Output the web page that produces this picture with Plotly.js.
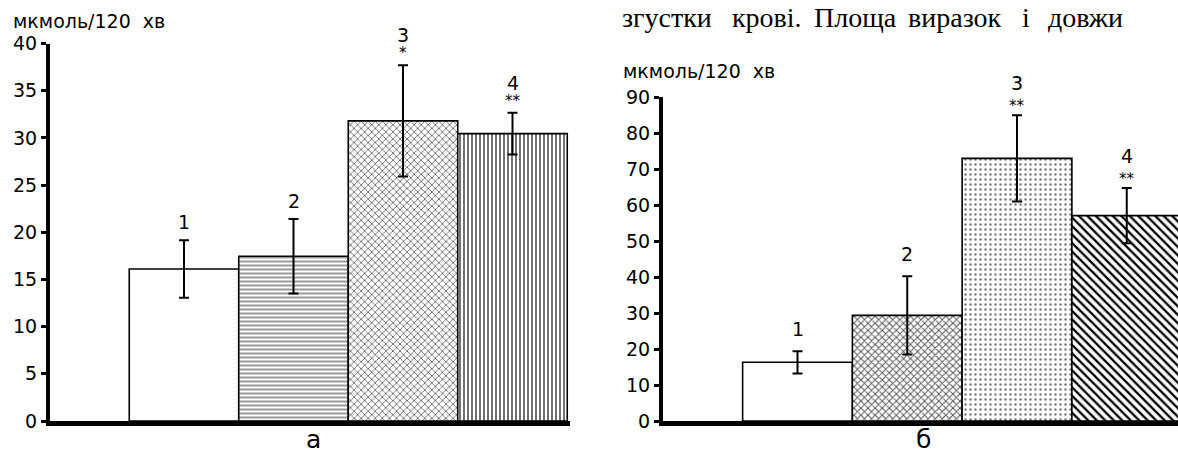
<!DOCTYPE html>
<html>
<head>
<meta charset="utf-8">
<script src="https://cdn.plot.ly/plotly-3.0.1.min.js"></script>
<style>
html,body{margin:0;padding:0;background:#fff;}
#chart{width:1178px;height:456px;}
</style>
</head>
<body>
<div id="chart"></div>
<script>
// ---- data ----
const categories = ['1', '2', '3', '4'];
const valuesA = [16.1, 17.45, 31.8, 30.45];
const errorsA = [3.05, 3.95, 5.9, 2.2];
const starsA = ['', '', '*', '**'];
const valuesB = [16.3, 29.35, 72.95, 57.05];
const errorsB = [3.1, 10.85, 11.95, 7.65];
const starsB = ['', '', '**', '**'];
const yTicksA = [0, 5, 10, 15, 20, 25, 30, 35, 40];
const yTicksB = [0, 10, 20, 30, 40, 50, 60, 70, 80, 90];
const unitLabel = 'мкмоль/120\u00A0\u00A0хв';
const panelLabels = ['а', 'б'];
const pageWords = ['згустки', 'крові.', 'Площа', 'виразок', 'і', 'довжи'];

// ---- styling ----
const W = 1178, H = 456;
const FONT = 'DejaVu Sans, Arial, sans-serif';
const SERIF = 'Liberation Serif, Times New Roman, serif';
const xpos = categories.map((c, i) => i);

const patternsA = [
  {shape: '', fgcolor: '#000', bgcolor: '#fff'},
  {shape: '-', size: 4, solidity: 0.3, fgcolor: '#555', bgcolor: '#fff'},
  {shape: 'x', size: 5, solidity: 0.28, fgcolor: '#555', bgcolor: '#fff'},
  {shape: '|', size: 4, solidity: 0.35, fgcolor: '#333', bgcolor: '#fff'}
];
const patternsB = [
  {shape: '', fgcolor: '#000', bgcolor: '#fff'},
  {shape: 'x', size: 5, solidity: 0.35, fgcolor: '#555', bgcolor: '#fff'},
  {shape: '.', size: 5, solidity: 0.18, fgcolor: '#777', bgcolor: '#fff'},
  {shape: '\\', size: 6, solidity: 0.38, fgcolor: '#000', bgcolor: '#fff'}
];

function barTraces(values, errors, patterns, xa, ya) {
  return values.map((v, i) => ({
    type: 'bar',
    x: [xpos[i]],
    y: [v],
    width: 1,
    xaxis: xa, yaxis: ya,
    marker: {color: '#fff', line: {color: '#000', width: 1.6}, pattern: patterns[i]},
    error_y: {type: 'data', array: [errors[i]], visible: true, color: '#000', thickness: 2, width: 5},
    hoverinfo: 'skip',
    showlegend: false
  }));
}

const data = [].concat(
  barTraces(valuesA, errorsA, patternsA, 'x', 'y'),
  barTraces(valuesB, errorsB, patternsB, 'x2', 'y2')
);

const px2fx = p => p / W;
const px2fy = p => (H - p) / H;

function labelAnns(values, errors, stars, xr, yr, numShiftStar, numShiftPlain, starShift) {
  const out = [];
  values.forEach((v, i) => {
    const top = v + errors[i];
    const hasStar = stars[i] !== '';
    out.push({xref: xr, yref: yr, x: xpos[i], y: top, text: categories[i], showarrow: false,
      yanchor: 'middle', xanchor: 'center', yshift: hasStar ? numShiftStar : numShiftPlain,
      font: {family: FONT, size: 19, color: '#000'}});
    if (hasStar) {
      out.push({xref: xr, yref: yr, x: xpos[i], y: top, text: stars[i], showarrow: false,
        yanchor: 'middle', xanchor: 'center', yshift: starShift,
        font: {family: FONT, size: 15, color: '#000'}});
    }
  });
  return out;
}

// page-text word positions (px, left edges)
const wordX = [620, 730, 812, 906, 1020, 1046];
const pageAnns = pageWords.map((w, i) => ({
  xref: 'paper', yref: 'paper', x: px2fx(wordX[i]), y: 1, xanchor: 'left', yanchor: 'top',
  text: w, showarrow: false, font: {family: SERIF, size: 28, color: '#000'}
}));

const annotations = [].concat(
  labelAnns(valuesA, errorsA, starsA, 'x', 'y', 30, 18, 12),
  labelAnns(valuesB, errorsB, starsB, 'x2', 'y2', 32, 22, 9),
  [
    {xref: 'paper', yref: 'paper', x: px2fx(11), y: px2fy(21), xanchor: 'left', yanchor: 'middle',
      text: unitLabel, showarrow: false, font: {family: FONT, size: 19, color: '#000'}},
    {xref: 'paper', yref: 'paper', x: px2fx(621), y: px2fy(71), xanchor: 'left', yanchor: 'middle',
      text: unitLabel, showarrow: false, font: {family: FONT, size: 19, color: '#000'}},
    {xref: 'paper', yref: 'paper', x: px2fx(313), y: 0, xanchor: 'center', yanchor: 'bottom',
      text: panelLabels[0], showarrow: false, font: {family: FONT, size: 25, color: '#000'}},
    {xref: 'paper', yref: 'paper', x: px2fx(923), y: 0, xanchor: 'center', yanchor: 'bottom',
      text: panelLabels[1], showarrow: false, font: {family: FONT, size: 25, color: '#000'}}
  ],
  pageAnns
);

// geometry (pixels)
const A = {L: 50, R: 570, c0: 184, unit: 109.5, top: 43.5, bottom: 421};
const B = {L: 663, R: 1178, c0: 797.5, unit: 109.75, top: 97, bottom: 421};

const yAxisCommon = {
  showgrid: false, zeroline: false, showline: true, linewidth: 4, linecolor: '#000',
  ticks: 'outside', ticklen: 5, tickwidth: 3, tickcolor: '#000',
  tickfont: {family: FONT, size: 19, color: '#000'}, fixedrange: true
};
const xAxisCommon = {
  showgrid: false, zeroline: false, showline: true, linewidth: 5, linecolor: '#000',
  ticks: '', showticklabels: false, fixedrange: true
};

const layout = {
  width: W, height: H,
  margin: {l: 0, r: 0, t: 0, b: 0, pad: 0},
  paper_bgcolor: '#fff', plot_bgcolor: '#fff',
  showlegend: false,
  bargap: 0,
  barmode: 'overlay',
  xaxis: Object.assign({}, xAxisCommon, {
    domain: [px2fx(A.L), px2fx(A.R)],
    range: [(A.L - A.c0) / A.unit, (A.R - A.c0) / A.unit], anchor: 'y'}),
  yaxis: Object.assign({}, yAxisCommon, {
    domain: [px2fy(A.bottom), px2fy(A.top)], range: [0, 40],
    tickvals: yTicksA, ticktext: yTicksA.map(String), anchor: 'x'}),
  xaxis2: Object.assign({}, xAxisCommon, {
    domain: [px2fx(B.L), px2fx(B.R)],
    range: [(B.L - B.c0) / B.unit, (B.R - B.c0) / B.unit], anchor: 'y2'}),
  yaxis2: Object.assign({}, yAxisCommon, {
    domain: [px2fy(B.bottom), px2fy(B.top)], range: [0, 90],
    tickvals: yTicksB, ticktext: yTicksB.map(String), anchor: 'x2'}),
  annotations: annotations
};

Plotly.newPlot('chart', data, layout, {staticPlot: true, displayModeBar: false});
</script>
</body>
</html>
